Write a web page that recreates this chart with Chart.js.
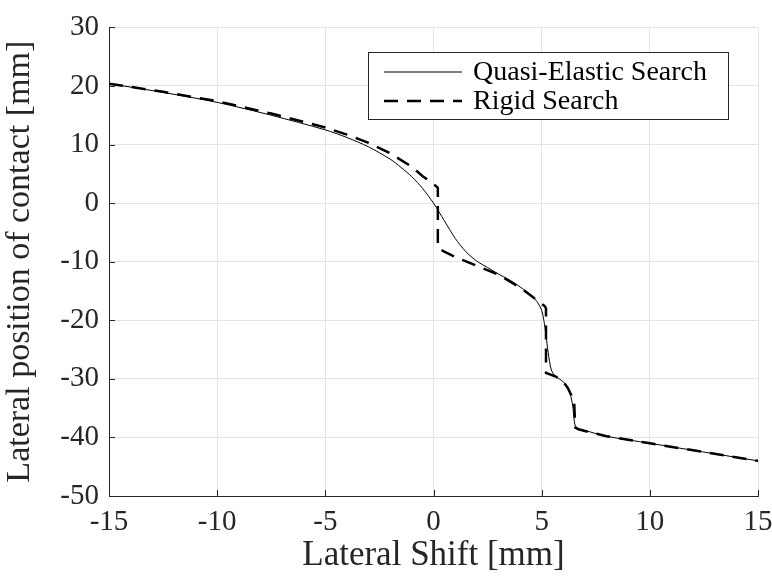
<!DOCTYPE html>
<html>
<head>
<meta charset="utf-8">
<script src="https://cdn.jsdelivr.net/npm/chart.js@4/dist/chart.umd.min.js"></script>
<style>
  html, body { margin: 0; padding: 0; background: #fff; }
  #wrap { width: 772px; height: 577px; }
</style>
</head>
<body>
<div id="wrap"><canvas id="chart" width="772" height="577"></canvas></div>
<script>
// values
const xTicks = [-15, -10, -5, 0, 5, 10, 15];
const yTicks = [-50, -40, -30, -20, -10, 0, 10, 20, 30];

const quasiX = [-15, -12.5, -10, -7.5, -5, -4, -3, -2, -1.5, -1, -0.5, 0, 0.5, 1, 1.5, 2, 2.5, 3, 3.5, 4, 4.5, 4.8, 5.0, 5.1, 5.2, 5.3, 5.45, 5.65, 6.0, 6.2, 6.35, 6.45, 6.5, 6.6, 7, 8, 10, 12.5, 15];
const quasiY = [20.4, 18.9, 17.2, 15.0, 12.5, 11.2, 9.6, 7.5, 6.1, 4.5, 2.5, 0, -3.0, -6.0, -8.3, -9.9, -11.0, -12.1, -13.1, -14.3, -15.7, -16.9, -18.3, -20.0, -22.5, -25.5, -28.5, -29.6, -30.5, -31.5, -33, -35, -37, -38.3, -38.8, -39.8, -41, -42.5, -44];

const rigidX = [-15, -12.5, -10, -7.5, -5, -4, -3, -2, -1, -0.5, 0, 0.2, 0.2, 0.5, 1, 2, 3, 4, 5.15, 5.2, 5.2, 5.65, 6.0, 6.2, 6.4, 6.5, 6.55, 6.7, 7, 8, 10, 12.5, 15];
const rigidY = [20.4, 19.0, 17.4, 15.3, 12.9, 11.7, 10.3, 8.5, 6.2, 4.6, 3.3, 2.6, -7.6, -8.3, -9.2, -10.7, -12.2, -14.4, -17.6, -18.0, -29.0, -29.6, -30.5, -31.5, -33.0, -33.6, -38.3, -38.6, -38.9, -39.8, -41, -42.5, -44];

const seriesLabels = ['Quasi-Elastic Search', 'Rigid Search'];

const serif = "'Liberation Serif', 'DejaVu Serif', serif";
const axisColor = '#262626';

function toPoints(xs, ys) {
    return xs.map((x, i) => ({ x: x, y: ys[i] }));
}

// MATLAB-like boxed legend inside the plot
const boxLegend = {
    id: 'boxLegend',
    afterDraw(chart) {
        const ctx = chart.ctx;
        const left = 368, top = 52, right = 728, bottom = 119;
        const rows = [72, 101];
        ctx.save();
        ctx.fillStyle = '#fff';
        ctx.fillRect(left, top, right - left, bottom - top);
        ctx.strokeStyle = axisColor;
        ctx.lineWidth = 1;
        ctx.strokeRect(left + 0.5, top + 0.5, right - left, bottom - top);
        chart.data.datasets.forEach((ds, i) => {
            ctx.beginPath();
            ctx.strokeStyle = ds.borderColor;
            ctx.lineWidth = ds.borderWidth;
            ctx.setLineDash(ds.borderDash || []);
            ctx.moveTo(384, rows[i]);
            ctx.lineTo(462, rows[i]);
            ctx.stroke();
            ctx.setLineDash([]);
            ctx.fillStyle = '#000';
            ctx.font = '28px ' + serif;
            ctx.textBaseline = 'middle';
            ctx.textAlign = 'left';
            ctx.fillText(ds.label, 473, rows[i] + 1);
        });
        ctx.restore();
    }
};

// small inward tick marks on the two axes
const innerTicks = {
    id: 'innerTicks',
    afterDatasetsDraw(chart) {
        const ctx = chart.ctx;
        const xs = chart.scales.x, ys = chart.scales.y;
        const a = chart.chartArea;
        ctx.save();
        ctx.strokeStyle = axisColor;
        ctx.lineWidth = 1;
        ctx.beginPath();
        xTicks.forEach(v => {
            const px = Math.round(xs.getPixelForValue(v)) + 0.5;
            ctx.moveTo(px, a.bottom);
            ctx.lineTo(px, a.bottom - 6);
        });
        yTicks.forEach(v => {
            const py = Math.round(ys.getPixelForValue(v)) + 0.5;
            ctx.moveTo(a.left, py);
            ctx.lineTo(a.left + 6, py);
        });
        ctx.stroke();
        ctx.restore();
    }
};

new Chart(document.getElementById('chart').getContext('2d'), {
    type: 'line',
    data: {
        datasets: [
            {
                label: seriesLabels[0],
                data: toPoints(quasiX, quasiY),
                borderColor: '#000',
                borderWidth: 1,
                pointRadius: 0,
                tension: 0.3,
                fill: false
            },
            {
                label: seriesLabels[1],
                data: toPoints(rigidX, rigidY),
                borderColor: '#000',
                borderWidth: 2.5,
                borderDash: [14, 9],
                pointRadius: 0,
                tension: 0,
                fill: false
            }
        ]
    },
    options: {
        responsive: false,
        animation: false,
        layout: { padding: { top: 24, right: 5, left: 0, bottom: 0 } },
        plugins: {
            legend: { display: false },
            tooltip: { enabled: false }
        },
        scales: {
            x: {
                type: 'linear',
                min: -15,
                max: 15,
                afterBuildTicks: s => { s.ticks = xTicks.map(v => ({ value: v })); },
                afterFit: s => { s.height = 81; s.paddingLeft = 0; s.paddingRight = 14; },
                ticks: { color: axisColor, font: { family: serif, size: 29 }, padding: 9, maxRotation: 0 },
                grid: { color: '#e3e3e3', tickLength: 0, drawTicks: false },
                border: { color: axisColor, width: 1 },
                title: { display: true, text: 'Lateral Shift [mm]', color: axisColor, font: { family: serif, size: 35 }, padding: { top: 0, bottom: 0 } }
            },
            y: {
                type: 'linear',
                min: -50,
                max: 30,
                afterBuildTicks: s => { s.ticks = yTicks.map(v => ({ value: v })); },
                afterFit: s => { s.width = 109; },
                ticks: { color: axisColor, font: { family: serif, size: 29 }, padding: 10 },
                grid: { color: '#e3e3e3', tickLength: 0, drawTicks: false },
                border: { color: axisColor, width: 1 },
                title: { display: true, text: 'Lateral position of contact [mm]', color: axisColor, font: { family: serif, size: 34 }, padding: { top: 0, bottom: 4 } }
            }
        }
    },
    plugins: [innerTicks, boxLegend]
});
</script>
</body>
</html>
